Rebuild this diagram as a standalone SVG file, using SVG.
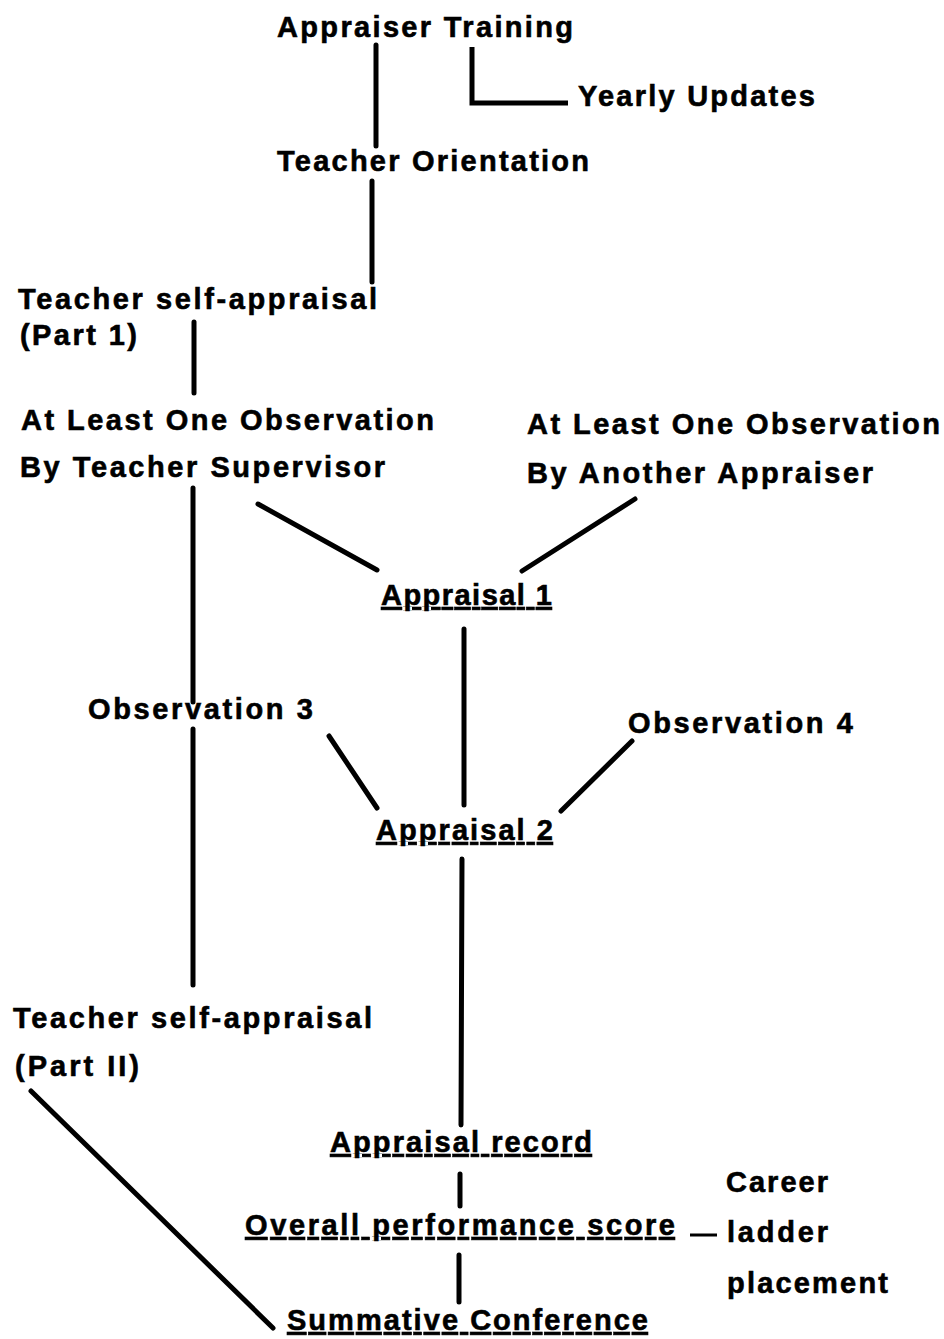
<svg xmlns="http://www.w3.org/2000/svg" width="944" height="1339" viewBox="0 0 944 1339">
<style>
  text { font-family: "Liberation Sans", Arial, sans-serif; font-weight: bold; font-size: 29px; fill: #000; stroke: #000; stroke-width: 0.6; }
  .u { text-decoration: underline; }
  .c line { stroke: #000; stroke-width: 5; stroke-linecap: round; fill: none; }
  .c polyline { stroke: #000; stroke-width: 5; stroke-linejoin: miter; fill: none; }
</style>
<rect width="944" height="1339" fill="#fff"/>
<g class="c" id="connectors">
  <line x1="376" y1="45" x2="376" y2="146"/>
  <polyline points="472,47 472,103 568,103"/>
  <line x1="372" y1="181" x2="372" y2="282"/>
  <line x1="194" y1="322" x2="194" y2="393"/>
  <line x1="193" y1="488" x2="193" y2="702"/>
  <line x1="193" y1="729" x2="193" y2="985"/>
  <line x1="258" y1="504" x2="377" y2="570"/>
  <line x1="635" y1="499" x2="522" y2="571"/>
  <line x1="464" y1="629" x2="464" y2="805"/>
  <line x1="329" y1="736" x2="377" y2="808"/>
  <line x1="632" y1="741" x2="561" y2="811"/>
  <line x1="462" y1="859" x2="461" y2="1125"/>
  <line x1="460" y1="1174" x2="460" y2="1206"/>
  <line x1="459" y1="1255" x2="459" y2="1302"/>
  <line x1="31" y1="1091" x2="273" y2="1328"/>
  <line x1="690" y1="1235" x2="717" y2="1235" style="stroke-width:3;stroke-linecap:butt"/>
</g>
<g id="appraiser-training"><text x="277" y="37" textLength="296" lengthAdjust="spacing">Appraiser Training</text></g>
<g id="yearly-updates"><text x="578" y="106" textLength="237" lengthAdjust="spacing">Yearly Updates</text></g>
<g id="teacher-orientation"><text x="277" y="171" textLength="312" lengthAdjust="spacing">Teacher Orientation</text></g>
<g id="self-appraisal-1">
  <text x="18" y="309" textLength="359" lengthAdjust="spacing">Teacher self-appraisal</text>
  <text x="20" y="345" textLength="117" lengthAdjust="spacing">(Part 1)</text>
</g>
<g id="observation-supervisor">
  <text x="21" y="430" textLength="413" lengthAdjust="spacing">At Least One Observation</text>
  <text x="20" y="477" textLength="365" lengthAdjust="spacing">By Teacher Supervisor</text>
</g>
<g id="observation-another">
  <text x="527" y="434" textLength="413" lengthAdjust="spacing">At Least One Observation</text>
  <text x="527" y="483" textLength="346" lengthAdjust="spacing">By Another Appraiser</text>
</g>
<g id="appraisal-1"><text class="u" x="381" y="605" textLength="171" lengthAdjust="spacing">Appraisal 1</text></g>
<g id="observation-3"><text x="88" y="719" textLength="225" lengthAdjust="spacing">Observation 3</text></g>
<g id="observation-4"><text x="628" y="733" textLength="225" lengthAdjust="spacing">Observation 4</text></g>
<g id="appraisal-2"><text class="u" x="376" y="840" textLength="177" lengthAdjust="spacing">Appraisal 2</text></g>
<g id="self-appraisal-2">
  <text x="13" y="1028" textLength="359" lengthAdjust="spacing">Teacher self-appraisal</text>
  <text x="15" y="1076" textLength="124" lengthAdjust="spacing">(Part II)</text>
</g>
<g id="appraisal-record"><text class="u" x="330" y="1152" textLength="262" lengthAdjust="spacing">Appraisal record</text></g>
<g id="overall-score"><text class="u" x="245" y="1235" textLength="430" lengthAdjust="spacing">Overall performance score</text></g>
<g id="career-ladder">
  <text x="726" y="1192" textLength="102" lengthAdjust="spacing">Career</text>
  <text x="727" y="1242" textLength="101" lengthAdjust="spacing">ladder</text>
  <text x="727" y="1293" textLength="161" lengthAdjust="spacing">placement</text>
</g>
<g id="summative-conference"><text class="u" x="287" y="1330" textLength="361" lengthAdjust="spacing">Summative Conference</text></g>
</svg>
